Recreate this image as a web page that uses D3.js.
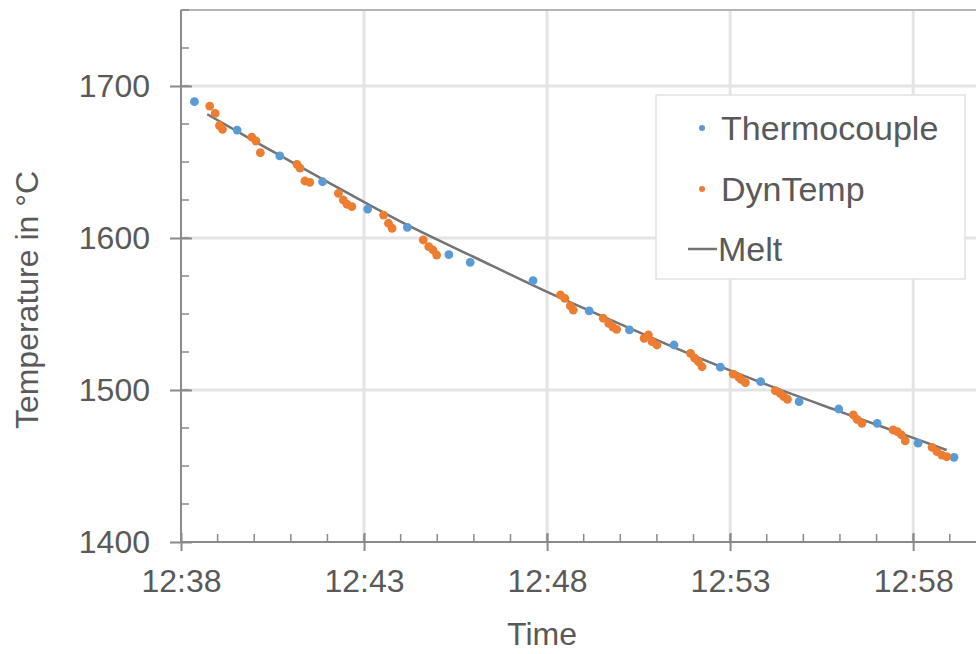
<!DOCTYPE html>
<html>
<head>
<meta charset="utf-8">
<script src="https://cdn.jsdelivr.net/npm/d3@7"></script>
<style>
  html, body { margin: 0; padding: 0; background: #fff; }
  svg { display: block; }
</style>
</head>
<body>
<svg id="chart" width="976" height="654"></svg>
<script>
// ---- data ----
const thermoTimes = ["12:38:22","12:39:32","12:40:42","12:41:52","12:43:06","12:44:11","12:45:19","12:45:54","12:47:37","12:49:09","12:50:15","12:51:28","12:52:44","12:53:50","12:54:53","12:55:58","12:57:01","12:58:08","12:59:07"];
const thermoValues = [1689.7,1671,1654,1637,1619,1607,1589,1584,1572,1552,1539.5,1529.6,1515,1505.5,1492.3,1487.5,1478,1465,1455.7];

const dynTimes = ["12:38:47","12:38:56","12:39:03","12:39:08","12:39:56","12:40:03","12:40:10","12:41:10","12:41:15","12:41:23","12:41:31","12:42:18","12:42:26","12:42:32","12:42:40","12:43:32","12:43:40","12:43:46","12:44:37","12:44:46","12:44:53","12:44:59","12:48:22","12:48:29","12:48:38","12:48:43","12:49:32","12:49:41","12:49:48","12:49:54","12:50:39","12:50:46","12:50:52","12:51:00","12:51:55","12:52:02","12:52:08","12:52:14","12:53:05","12:53:14","12:53:18","12:53:25","12:54:14","12:54:22","12:54:28","12:54:34","12:56:22","12:56:28","12:56:36","12:57:27","12:57:34","12:57:41","12:57:47","12:58:31","12:58:39","12:58:47","12:58:55"];
const dynValues = [1686.8,1682,1674,1671.5,1666.3,1663.8,1656.1,1648.5,1646,1637.5,1636.6,1629.4,1625,1622.2,1620.6,1615.1,1609.7,1606.4,1598.7,1594.3,1592.1,1588.8,1562.5,1560.3,1555.3,1552.6,1547.2,1543.9,1541.3,1539.9,1534,1536.2,1531.8,1529.6,1524.1,1520.9,1518.6,1515.3,1510.5,1508.4,1507,1504.8,1499.5,1497.8,1495.6,1493.9,1483.6,1480.7,1478.1,1473.7,1472.6,1470.4,1466.6,1462.3,1459.4,1457.2,1456.1];

const meltTimes = ["12:38:43","12:40:00","12:42:00","12:44:00","12:46:00","12:48:00","12:50:00","12:52:00","12:54:00","12:56:00","12:58:00","12:58:55"];
const meltValues = [1681.4,1663.7,1636.9,1610.8,1587.5,1564.5,1543.3,1522.6,1503.5,1485.8,1468.5,1460.5];

const xTickLabels = ["12:38","12:43","12:48","12:53","12:58"];
const yTickValues = [1400,1500,1600,1700];
const xDomain = ["12:38:00","12:59:43"];
const yDomain = [1400,1750];
const seriesNames = ["Thermocouple","DynTemp","Melt"];

// ---- setup ----
const parse = d3.timeParse("%H:%M:%S");
const parseHM = d3.timeParse("%H:%M");
const svg = d3.select("#chart");
const FONT = "'Liberation Sans', Arial, Helvetica, sans-serif";
const textColor = "#595959";
const axisColor = "#8a8a8a";
const gridColor = "#e4e4e4";
const blue = "#5B9BD5", orange = "#ED7D31", gray = "#747474";

const pL = 181, pR = 976, pT = 10, pB = 542;
const x = d3.scaleTime().domain(xDomain.map(parse)).range([pL, pR]);
const y = d3.scaleLinear().domain(yDomain).range([pB, pT]);

const xTicks = xTickLabels.map(parseHM);
const minorX = d3.timeMinute.range(parse("12:38:00"), parse("12:59:43"));
const minorY = d3.range(yDomain[0], yDomain[1] + 0.1, 25);

// gridlines
const g = svg.append("g");
g.selectAll("line.vg").data(xTicks.slice(1)).join("line")
  .attr("x1", d => x(d)).attr("x2", d => x(d)).attr("y1", pT).attr("y2", pB)
  .attr("stroke", gridColor).attr("stroke-width", 3);
g.selectAll("line.hg").data(yTickValues.slice(1)).join("line")
  .attr("x1", pL).attr("x2", pR).attr("y1", d => y(d)).attr("y2", d => y(d))
  .attr("stroke", gridColor).attr("stroke-width", 3);
// top border
g.append("line").attr("x1", pL).attr("x2", pR).attr("y1", y(yDomain[1])).attr("y2", y(yDomain[1]))
  .attr("stroke", "#b5b5b5").attr("stroke-width", 2);

// minor ticks (inside)
g.selectAll("line.mx").data(minorX).join("line")
  .attr("x1", d => x(d)).attr("x2", d => x(d)).attr("y1", pB).attr("y2", pB - 8)
  .attr("stroke", axisColor).attr("stroke-width", 1.5);
g.selectAll("line.my").data(minorY).join("line")
  .attr("x1", pL).attr("x2", pL + 8).attr("y1", d => y(d)).attr("y2", d => y(d))
  .attr("stroke", axisColor).attr("stroke-width", 1.5);

// axes
const xAxis = d3.axisBottom(x).tickValues(xTicks).tickFormat(d3.timeFormat("%H:%M")).tickSize(9).tickPadding(18);
const yAxis = d3.axisLeft(y).tickValues(yTickValues).tickFormat(d3.format("d")).tickSize(11).tickPadding(20);

const gx = svg.append("g").attr("transform", `translate(0,${pB})`).call(xAxis);
const gy = svg.append("g").attr("transform", `translate(${pL},0)`).call(yAxis);
[gx, gy].forEach(a => {
  a.select(".domain").attr("stroke", axisColor).attr("stroke-width", 2);
  a.selectAll(".tick line").attr("stroke", axisColor).attr("stroke-width", 2);
  a.selectAll(".tick text").attr("fill", textColor).style("font-family", FONT).style("font-size", "32px");
});
gx.select(".domain").attr("d", `M${pL},0H${pR}`);
gx.selectAll(".tick line").attr("y1", -9);
gy.selectAll(".tick line").attr("x2", -11).attr("x1", 11);
gy.select(".domain").attr("d", `M0,${pB}V${pT}`);

// Melt line
const meltData = meltTimes.map((t, i) => ({ t: parse(t), v: meltValues[i] }));
svg.append("path").datum(meltData)
  .attr("d", d3.line().x(d => x(d.t)).y(d => y(d.v)).curve(d3.curveMonotoneX))
  .attr("fill", "none").attr("stroke", gray).attr("stroke-width", 2.5);

// Thermocouple points
const thermoData = thermoTimes.map((t, i) => ({ t: parse(t), v: thermoValues[i] }));
svg.append("g").selectAll("circle").data(thermoData).join("circle")
  .attr("cx", d => x(d.t)).attr("cy", d => y(d.v)).attr("r", 4.4).attr("fill", blue);

// DynTemp points
const dynData = dynTimes.map((t, i) => ({ t: parse(t), v: dynValues[i] }));
svg.append("g").selectAll("circle").data(dynData).join("circle")
  .attr("cx", d => x(d.t)).attr("cy", d => y(d.v)).attr("r", 4.4).attr("fill", orange);

// axis titles
svg.append("text").attr("x", 542).attr("y", 645)
  .attr("text-anchor", "middle").attr("fill", textColor)
  .style("font-family", FONT).style("font-size", "32px").text("Time");
svg.append("text").attr("transform", "translate(38,300) rotate(-90)")
  .attr("text-anchor", "middle").attr("fill", textColor)
  .style("font-family", FONT).style("font-size", "32px").text("Temperature in °C");

// legend
const lg = svg.append("g");
lg.append("rect").attr("x", 656).attr("y", 95).attr("width", 309).attr("height", 184)
  .attr("fill", "#fff").attr("stroke", "#e2e2e2").attr("stroke-width", 1.5);
const rowsY = [128, 189, 249];
lg.append("circle").attr("cx", 702).attr("cy", rowsY[0]).attr("r", 3).attr("fill", blue);
lg.append("circle").attr("cx", 702).attr("cy", rowsY[1]).attr("r", 3).attr("fill", orange);
lg.append("line").attr("x1", 688).attr("x2", 717).attr("y1", rowsY[2]).attr("y2", rowsY[2])
  .attr("stroke", gray).attr("stroke-width", 2.5);
seriesNames.forEach((n, i) => {
  lg.append("text").attr("x", i === 2 ? 718 : 721).attr("y", rowsY[i]).attr("dy", "0.36em")
    .attr("fill", textColor).style("font-family", FONT).style("font-size", "34px").text(n);
});
</script>
</body>
</html>
